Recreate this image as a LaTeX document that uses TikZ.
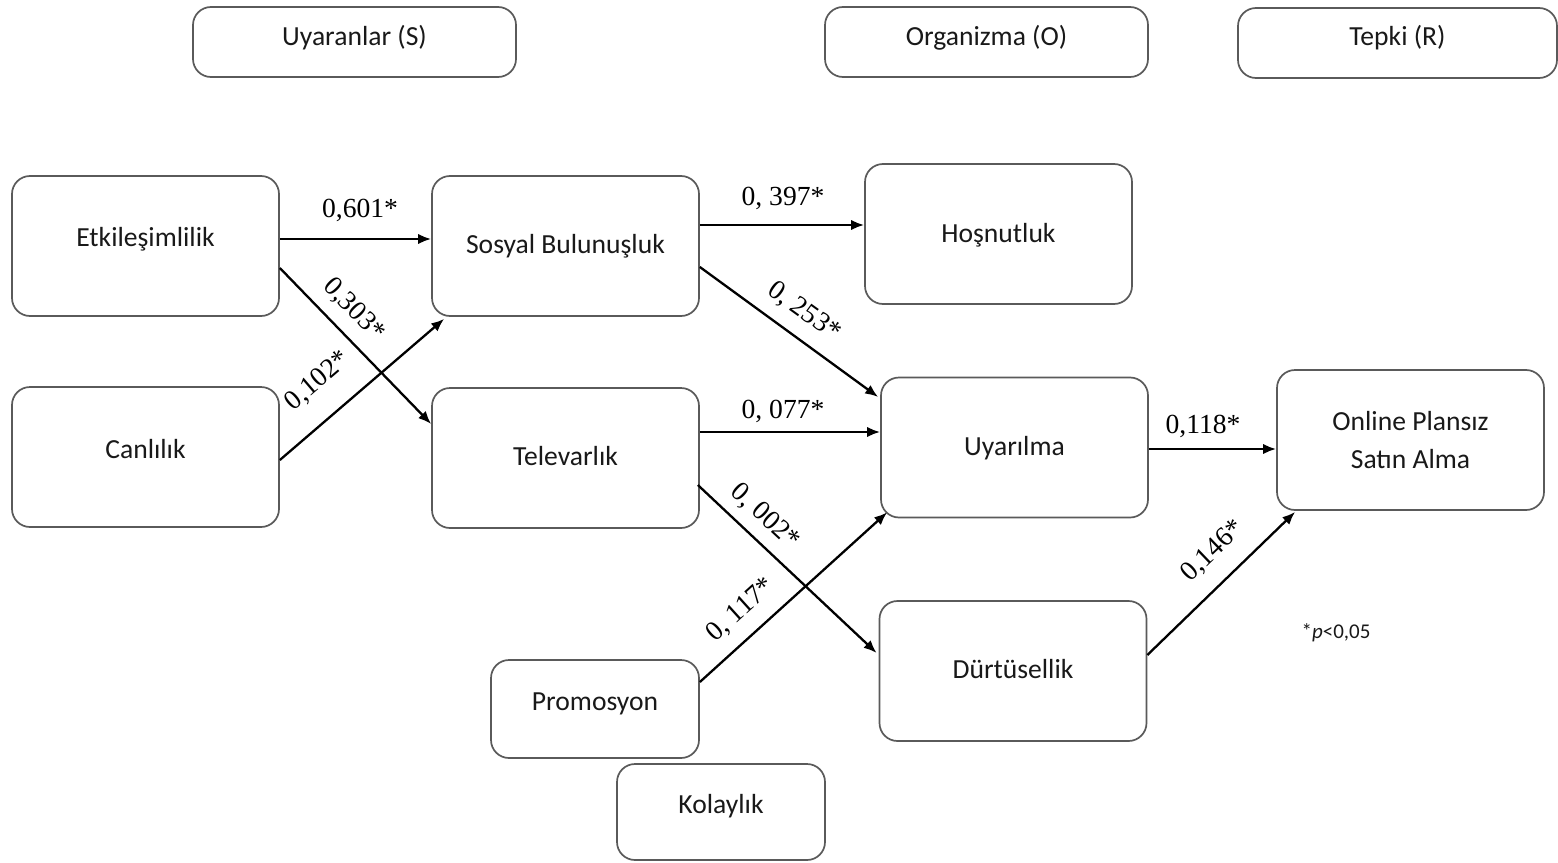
\documentclass[tikz,border=0pt]{standalone}
\usepackage{fontspec}
\setmainfont{Liberation Serif}
\newfontfamily\boxfont{Carlito}
\usetikzlibrary{calc,arrows.meta}
\definecolor{boxgray}{RGB}{90,90,90}
\definecolor{txtgray}{RGB}{25,25,25}
\begin{document}
\begin{tikzpicture}[x=0.5pt,y=-0.5pt,
  box/.style={draw=boxgray, line width=0.85pt, rounded corners=9pt, inner sep=0pt,
    font=\boxfont\fontsize{13.8}{19}\selectfont, text=txtgray, align=center},
  big/.style={box, minimum width=133.5pt, minimum height=70pt},
  topbox/.style={box, minimum width=161.5pt, minimum height=35pt},
  smallbox/.style={box, minimum width=104pt, minimum height=48.5pt},
  bl/.style={text height=#1pt, text depth=0pt},
  arr/.style={-{Latex[length=6.5pt,width=5.2pt]}, line width=1.15pt, black},
  lbl/.style={font=\fontsize{13.8}{15}\selectfont, inner sep=0pt, text=black}]
\useasboundingbox (0,0) rectangle (1558,862);
\fill[white] (0,0) rectangle (1558,862);

% header boxes
\node[topbox, bl=4] (uya) at (354.5,42) {Uyaranlar (S)};
\node[topbox, bl=4] (org) at (986.5,42) {Organizma (O)};
\node[topbox, bl=3, minimum width=159.5pt] (tep) at (1397.5,43) {Tepki (R)};

% main boxes
\node[big, bl=0] (etk) at (145.5,246) {Etkileşimlilik};
\node[big, bl=7] (sos) at (565.5,246) {Sosyal Bulunuşluk};
\node[big, bl=8] (hos) at (998.5,234) {Hoşnutluk};
\node[big, bl=1] (can) at (145.5,457) {Canlılık};
\node[big, bl=7] (tel) at (565.5,458) {Televarlık};
\node[big, bl=7.5] (uyr) at (1014.5,447.5) {Uyarılma};
\node[big] (onl) at (1410.5,440) {Online Plansız\\Satın Alma};
\node[big, bl=7] (drt) at (1013,671) {Dürtüsellik};
\node[smallbox, bl=1, minimum height=49pt] (pro) at (595,709) {Promosyon};
\node[smallbox, bl=1, minimum height=48pt] (kol) at (721,812) {Kolaylık};

% connectors
\draw[arr] ($(etk.east)+(0,-7)$) -- ($(sos.west)+(0,-7)$);
\draw[arr] ($(etk.east)+(0,22)$) -- ($(tel.west)+(0,-34)$);
\draw[arr] ($(can.east)+(0,3)$) -- ($(sos.south west)+(13,2)$);
\draw[arr] ($(sos.east)+(0,-21)$) -- ($(hos.west)+(0,-9)$);
\draw[arr] ($(sos.east)+(0,21)$) -- ($(uyr.west)+(-2,-50.5)$);
\draw[arr] ($(tel.east)+(0,-26)$) -- ($(uyr.west)+(0,-15.5)$);
\draw[arr] ($(tel.east)+(-2,27)$) -- ($(drt.west)+(-2,-18)$);
\draw[arr] ($(pro.east)+(0,-27)$) -- ($(uyr.south west)+(7,-6)$);
\draw[arr] ($(uyr.east)+(0,1.5)$) -- ($(onl.west)+(0,9)$);
\draw[arr] ($(drt.east)+(0,-16)$) -- ($(onl.south west)+(19,1)$);

% coefficient labels
\node[lbl] (l601) at (360,210) {0,601*};
\node[lbl, rotate=-45.6] (l303) at (354,310) {0,303*};
\node[lbl, rotate=40.5] (l102) at (318,381) {0,102*};
\node[lbl] (l397) at (783,198) {0, 397*};
\node[lbl, rotate=-35.8] (l253) at (804,312) {0, 253*};
\node[lbl] (l077) at (783,411) {0, 077*};
\node[lbl, rotate=-42.9] (l002) at (765,517) {0, 002*};
\node[lbl, rotate=42.1] (l117) at (741,610) {0, 117*};
\node[lbl] (l118) at (1203,426) {0,118*};
\node[lbl, rotate=43.8] (l146) at (1213,551) {0,146*};

% note
\node[font=\boxfont\fontsize{10.5}{12}\selectfont, text=txtgray, inner sep=0pt, anchor=base] (note) at (1336,638) {*\textit{p}<0,05};
\end{tikzpicture}
\end{document}
